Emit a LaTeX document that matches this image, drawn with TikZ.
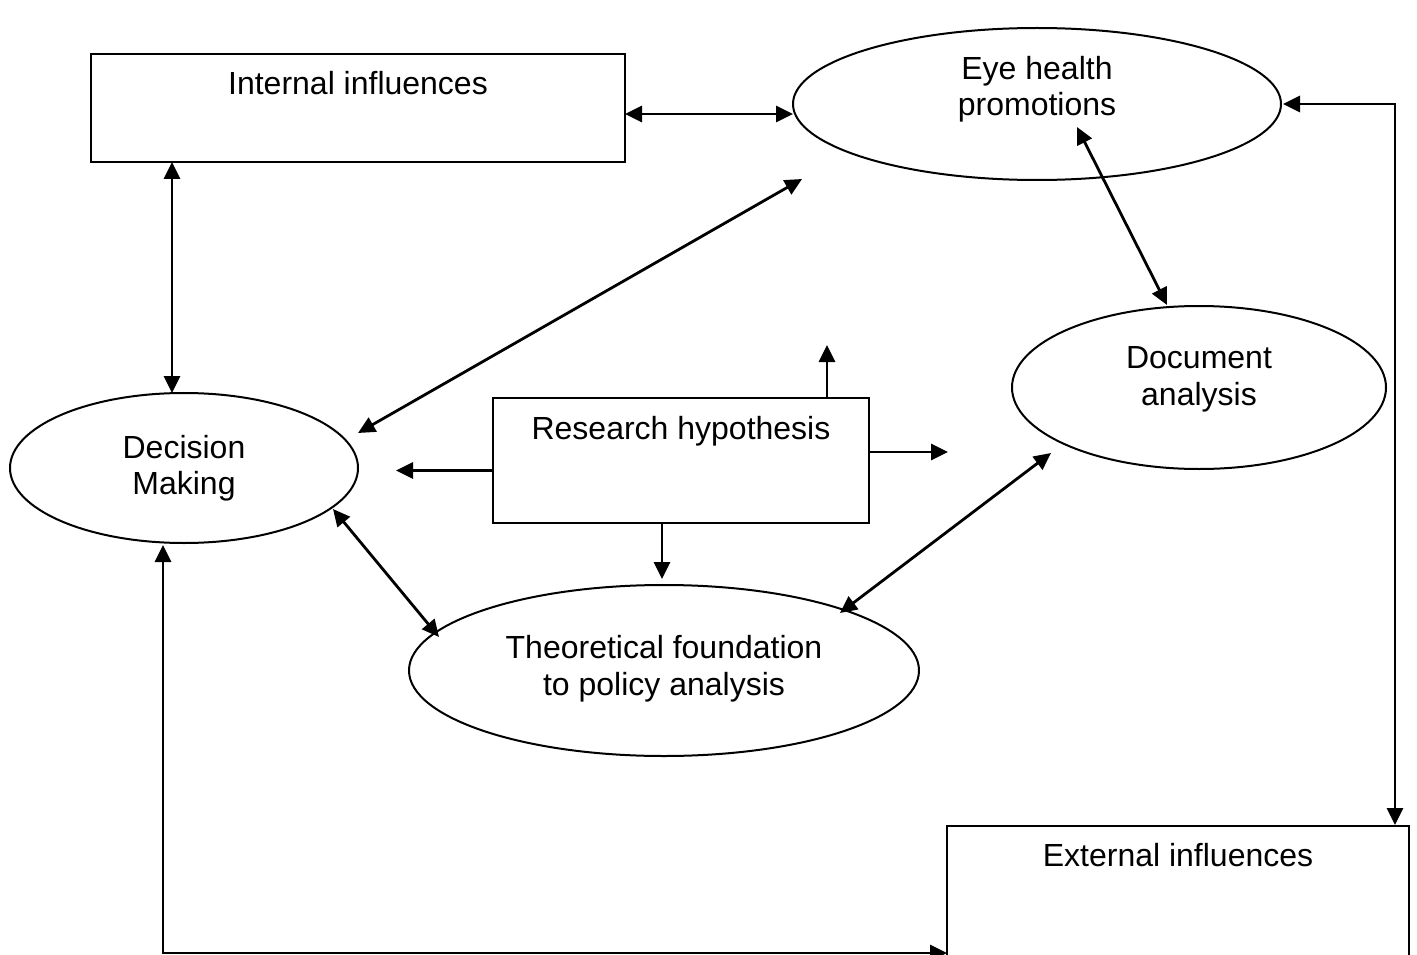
\documentclass[tikz,border=0pt]{standalone}
\usepackage{fontspec}
\setmainfont{Liberation Sans}
\usetikzlibrary{arrows.meta,shapes.geometric,calc}

\begin{document}
\begin{tikzpicture}[x=1pt,y=-1pt,
  outline/.style={draw=black, line width=2pt, inner sep=0pt, outer sep=0pt},
  boxnode/.style={outline, rectangle},
  ovalnode/.style={outline, ellipse},
  lbl/.style={anchor=base, inner sep=0pt, font=\fontsize{32}{37}\selectfont},
  link/.style={line width=2.8pt, -{Triangle[length=17pt,width=16pt]}},
  dlink/.style={line width=2.8pt, {Triangle[length=17pt,width=16pt]}-{Triangle[length=17pt,width=16pt]}},
]
\useasboundingbox (0,0) rectangle (1417,955);
\fill[white] (0,0) rectangle (1417,955);

% ---- shapes ----
\node[boxnode, minimum width=534pt, minimum height=108pt] (internal) at (358,108) {};
\node[ovalnode, minimum width=488pt, minimum height=152pt] (eye) at (1037,104) {};
\node[ovalnode, minimum width=374pt, minimum height=163pt] (doc) at (1199,387.5) {};
\node[ovalnode, minimum width=348pt, minimum height=150pt] (dec) at (184,468) {};
\node[boxnode, minimum width=376pt, minimum height=125pt] (hyp) at (681,460.5) {};
\node[ovalnode, minimum width=510pt, minimum height=171pt] (theo) at (664,670.5) {};
\node[boxnode, minimum width=462pt, minimum height=164pt] (ext) at (1178,908) {};

% ---- labels ----
\node[lbl] (internalT) at (358,95) {Internal influences};
\node[lbl] (eyeT1) at (1037,80) {Eye health};
\node[lbl] (eyeT2) at (1037,116) {promotions};
\node[lbl] (docT1) at (1199,368) {Document};
\node[lbl] (docT2) at (1199,405) {analysis};
\node[lbl] (decT1) at (184,458) {Decision};
\node[lbl] (decT2) at (184,494) {Making};
\node[lbl] (hypT) at (681,439) {Research hypothesis};
\node[lbl] (theoT1) at (664,658) {Theoretical foundation};
\node[lbl] (theoT2) at (664,695) {to policy analysis};
\node[lbl] (extT) at (1178,866) {External influences};

% ---- connector end points ----
\coordinate (inE)  at ($(internal.east)+(0,6)$);
\coordinate (eyW)  at ($(eye.west)+(0,10)$);
\coordinate (inS)  at ($(internal.south west)+(81,0)$);
\coordinate (deN)  at ($(dec.north)+(-12,0)$);
\coordinate (deNE) at ($(dec.east)+(0,-35)$);
\coordinate (eySW) at ($(eye.south)+(-235,-1)$);
\coordinate (eySE) at ($(eye.center)+(40,23)$);
\coordinate (doN)  at ($(doc.north)+(-32,-1)$);
\coordinate (eyE)  at ($(eye.east)+(2,0)$);
\coordinate (exN)  at ($(ext.north east)+(-14,-1)$);
\coordinate (deS)  at ($(dec.south)+(-21,2)$);
\coordinate (exW)  at ($(ext.west)+(0,45)$);
\coordinate (deSE) at ($(dec.center)+(149,41)$);
\coordinate (thNW) at ($(theo.center)+(-225,-33.5)$);
\coordinate (doSW) at ($(doc.center)+(-148,65.5)$);
\coordinate (thNE) at ($(theo.center)+(176,-57.5)$);
\coordinate (hyW)  at ($(hyp.west)+(0,10)$);
\coordinate (hyWt) at ($(hyp.west)+(-97,10)$);
\coordinate (hyN)  at ($(hyp.north)+(146,0)$);
\coordinate (hyNt) at ($(hyp.north)+(146,-53)$);
\coordinate (hyE)  at ($(hyp.east)+(0,-8.5)$);
\coordinate (hyEt) at ($(hyp.east)+(79,-8.5)$);
\coordinate (hyS)  at ($(hyp.south)+(-19,0)$);
\coordinate (hySt) at ($(hyp.south)+(-19,56)$);

% ---- connectors ----
\draw[dlink] (inE) -- (eyW);
\draw[dlink] (inS) -- (deN);
\draw[dlink] (deNE) -- (eySW);
\draw[dlink] (eySE) -- (doN);
\draw[dlink] (eyE) -| (exN);
\draw[dlink] (deS) |- (exW);
\draw[dlink] (deSE) -- (thNW);
\draw[dlink] (doSW) -- (thNE);
\draw[link] (hyW) -- (hyWt);
\draw[link] (hyN) -- (hyNt);
\draw[link] (hyE) -- (hyEt);
\draw[link] (hyS) -- (hySt);
\end{tikzpicture}
\end{document}
